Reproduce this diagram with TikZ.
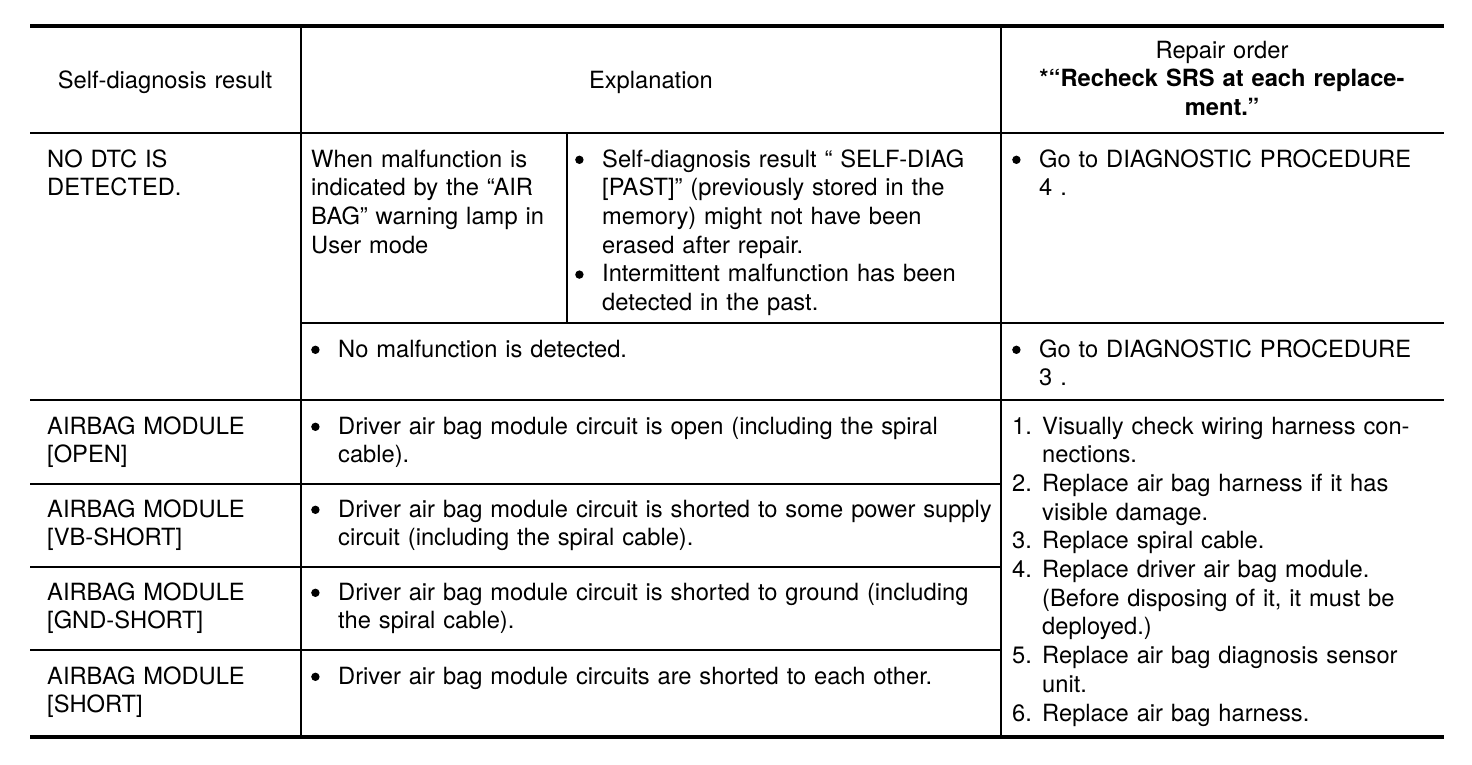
\documentclass[tikz,border=0pt]{standalone}
\usepackage{fontspec}
\setmainfont{TeX Gyre Heros}
\usepackage{tikz}
\newcommand{\bul}{\makebox[27pt][l]{\tikz[baseline=0pt]\fill (4.2pt,7.2pt) circle (4.2pt);}}
\newcommand{\hind}{\hspace*{27pt}}
\newcommand{\itm}[1]{\makebox[30pt][l]{#1}}
\newcommand{\hindn}{\hspace*{30pt}}

\begin{document}
\begin{tikzpicture}[x=1pt,y=-1pt,
                txt/.style={anchor=base west,align=left,inner sep=0pt,text width=700pt,
                    font=\fontsize{23.7}{28.7}\selectfont},
                hd/.style={anchor=base,align=center,inner sep=0pt,text width=430pt,
                    font=\fontsize{23.7}{28.7}\selectfont},
                heavy/.style={line width=4.5pt},
                rule/.style={line width=2.4pt}
            ]
                \useasboundingbox (0,0) rectangle (1472,764);

% table rules
                \draw[heavy] (30,26) -- (1444,26);
                \draw[heavy] (30,737) -- (1444,737);
                \draw[rule] (30,133) -- (1444,133);
                \draw[rule] (301,323) -- (1444,323);
                \draw[rule] (30,400) -- (1444,400);
                \foreach \y in {484,567,650}
                    {
                    \draw[rule] (30,\y) -- (1001,\y);
                }
                \foreach \x in {301,1001}
                    {
                    \draw[rule] (\x,26) -- (\x,737);
                }
                \draw[rule] (567,133) -- (567,323);

% header
                \node[hd] (hres) at (165,88) {Self-diagnosis result};
                \node[hd] (hexp) at (651,88) {Explanation};
                \node[hd] (hrep) at (1222,58) {Repair order\\
                    \textbf{*“Recheck SRS at each replace-}\\\textbf{ment.”}};

% no DTC
                \node[txt] (res1) at (47,167) {NO DTC IS\\DETECTED.};
                \node[txt] (lamp) at (311,167) {When malfunction is\\indicated by the “AIR\\
                    BAG” warning lamp in\\User mode};
                \node[txt] (past) at (575,167) {\bul Self-diagnosis result “ SELF-DIAG\\
                    \hind [PAST]” (previously stored in the\\\hind memory) might not have been\\
                    \hind erased after repair.\\\bul Intermittent malfunction has been\\
                    \hind detected in the past.};
                \node[txt] (rep1) at (1012,167) {\bul Go to DIAGNOSTIC PROCEDURE\\\hind 4 .};
                \node[txt] (none) at (311,357) {\bul No malfunction is detected.};
                \node[txt] (rep2) at (1012,357) {\bul Go to DIAGNOSTIC PROCEDURE\\\hind 3 .};

% airbag module rows
                \node[txt] (open) at (47,434) {AIRBAG MODULE\\{[OPEN]}};
                \node[txt] (vbs) at (47,517) {AIRBAG MODULE\\{[VB-SHORT]}};
                \node[txt] (gnds) at (47,600) {AIRBAG MODULE\\{[GND-SHORT]}};
                \node[txt] (short) at (47,684) {AIRBAG MODULE\\{[SHORT]}};
                \node[txt] (eopen) at (311,434) {\bul Driver air bag module circuit is open (including the spiral\\
                    \hind cable).};
                \node[txt] (evbs) at (311,517) {\bul Driver air bag module circuit is shorted to some power supply\\
                    \hind circuit (including the spiral cable).};
                \node[txt] (egnds) at (311,600) {\bul Driver air bag module circuit is shorted to ground (including\\
                    \hind the spiral cable).};
                \node[txt] (eshort) at (311,684) {\bul Driver air bag module circuits are shorted to each other.};
                \node[txt] (steps) at (1012,434) {\itm{1.}Visually check wiring harness con-\\\hindn nections.\\
                    \itm{2.}Replace air bag harness if it has\\\hindn visible damage.\\
                    \itm{3.}Replace spiral cable.\\
                    \itm{4.}Replace driver air bag module.\\\hindn (Before disposing of it, it must be\\
                    \hindn deployed.)\\
                    \itm{5.}Replace air bag diagnosis sensor\\\hindn unit.\\
                    \itm{6.}Replace air bag harness.};

            \end{tikzpicture}
\end{document}
